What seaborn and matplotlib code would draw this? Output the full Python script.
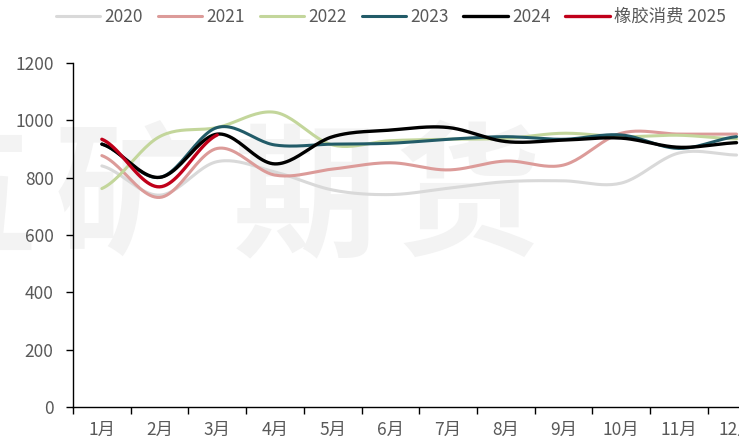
import numpy as np
import pandas as pd
import matplotlib
matplotlib.use('Agg')
import matplotlib.pyplot as plt
import seaborn as sns

months = ['1月', '2月', '3月', '4月', '5月', '6月', '7月', '8月', '9月', '10月', '11月', '12月']

v2020 = [841, 739, 856, 820, 757, 741, 763, 786, 789, 781, 886, 879]
v2021 = [877, 731, 902, 809, 830, 852, 827, 858, 844, 955, 952, 952]
v2022 = [762, 943, 975, 1028, 914, 929, 934, 937, 955, 943, 948, 935]
v2023 = [917, 801, 975, 914, 917, 920, 934, 943, 934, 949, 902, 943]
v2024 = [917, 801, 952, 848, 943, 966, 975, 926, 931, 938, 906, 922]
v2025 = [934, 768, 949]

series = [
    ('2020', v2020, '#d9d9d9'),
    ('2021', v2021, '#dc9b99'),
    ('2022', v2022, '#c3d69b'),
    ('2023', v2023, '#225b68'),
    ('2024', v2024, '#000000'),
    ('橡胶消费 2025', v2025, '#c0001a'),
]

y_ticks = [0, 200, 400, 600, 800, 1000, 1200]


def smooth(y, n=24):
    # catmull-rom, close to excel's smoothed line
    p = np.asarray(y, dtype=float)
    xs, ys = [], []
    for i in range(len(p) - 1):
        p0 = p[i - 1] if i > 0 else p[i]
        p1, p2 = p[i], p[i + 1]
        p3 = p[i + 2] if i + 2 < len(p) else p[i + 1]
        t = np.linspace(0, 1, n, endpoint=False)
        seg = 0.5 * ((2 * p1) + (-p0 + p2) * t + (2 * p0 - 5 * p1 + 4 * p2 - p3) * t ** 2
                     + (-p0 + 3 * p1 - 3 * p2 + p3) * t ** 3)
        xs.extend(i + t)
        ys.extend(seg)
    xs.append(len(p) - 1)
    ys.append(p[-1])
    return np.array(xs), np.array(ys)


sns.set_style('white')
plt.rcParams['font.family'] = ['Noto Sans CJK SC', 'DejaVu Sans']

fig = plt.figure(figsize=(7.39, 4.45), dpi=100)
ax = fig.add_axes([73 / 739, 38 / 445, 12 * 57.7 / 739, 344 / 445])

# watermark, behind everything
for ch, px in zip('五矿期货', [-35, 127, 305, 468]):
    ax.text(px / 739, 1 - 202 / 445, ch, transform=fig.transFigure, fontsize=104,
            fontweight='bold', color='#f3f3f3', ha='center', va='center',
            zorder=0.5, clip_on=False)

for name, vals, col in series:
    xs, ys = smooth(vals)
    lw = 2.4 if name in ('2024', '橡胶消费 2025') else 2.2
    sns.lineplot(x=xs, y=ys, ax=ax, color=col, lw=lw, label=name, sort=False, estimator=None)

ax.set_xlim(-0.5, 11.5)
ax.set_ylim(0, 1200)
ax.set_yticks(y_ticks)
ax.set_yticklabels([str(v) for v in y_ticks], fontsize=12.5, color='#595959')
ax.set_xticks(np.arange(-0.5, 12, 1))
ax.set_xticklabels([])
ax.set_xticks(np.arange(12), minor=True)
ax.set_xticklabels(months, minor=True, fontsize=12.5, color='#595959')
ax.tick_params(axis='x', which='major', direction='out', length=5, width=1, color='black', bottom=True)
ax.tick_params(axis='x', which='minor', length=0, pad=10)
ax.tick_params(axis='y', direction='out', length=5, width=1, color='black', left=True, pad=9)
ax.set_xlabel('')
ax.set_ylabel('')

for s in ['top', 'right']:
    ax.spines[s].set_visible(False)
for s in ['left', 'bottom']:
    ax.spines[s].set_color('black')
    ax.spines[s].set_linewidth(1)

leg = ax.legend(loc='upper left', bbox_to_anchor=(56 / 739, 1 - 8 / 445), bbox_transform=fig.transFigure,
                ncol=6, frameon=False, fontsize=12.5, handlelength=2.55, columnspacing=0.85,
                handletextpad=0.25, borderpad=0, borderaxespad=0)
for t in leg.get_texts():
    t.set_color('#595959')

fig.savefig('out.png', dpi=100)
